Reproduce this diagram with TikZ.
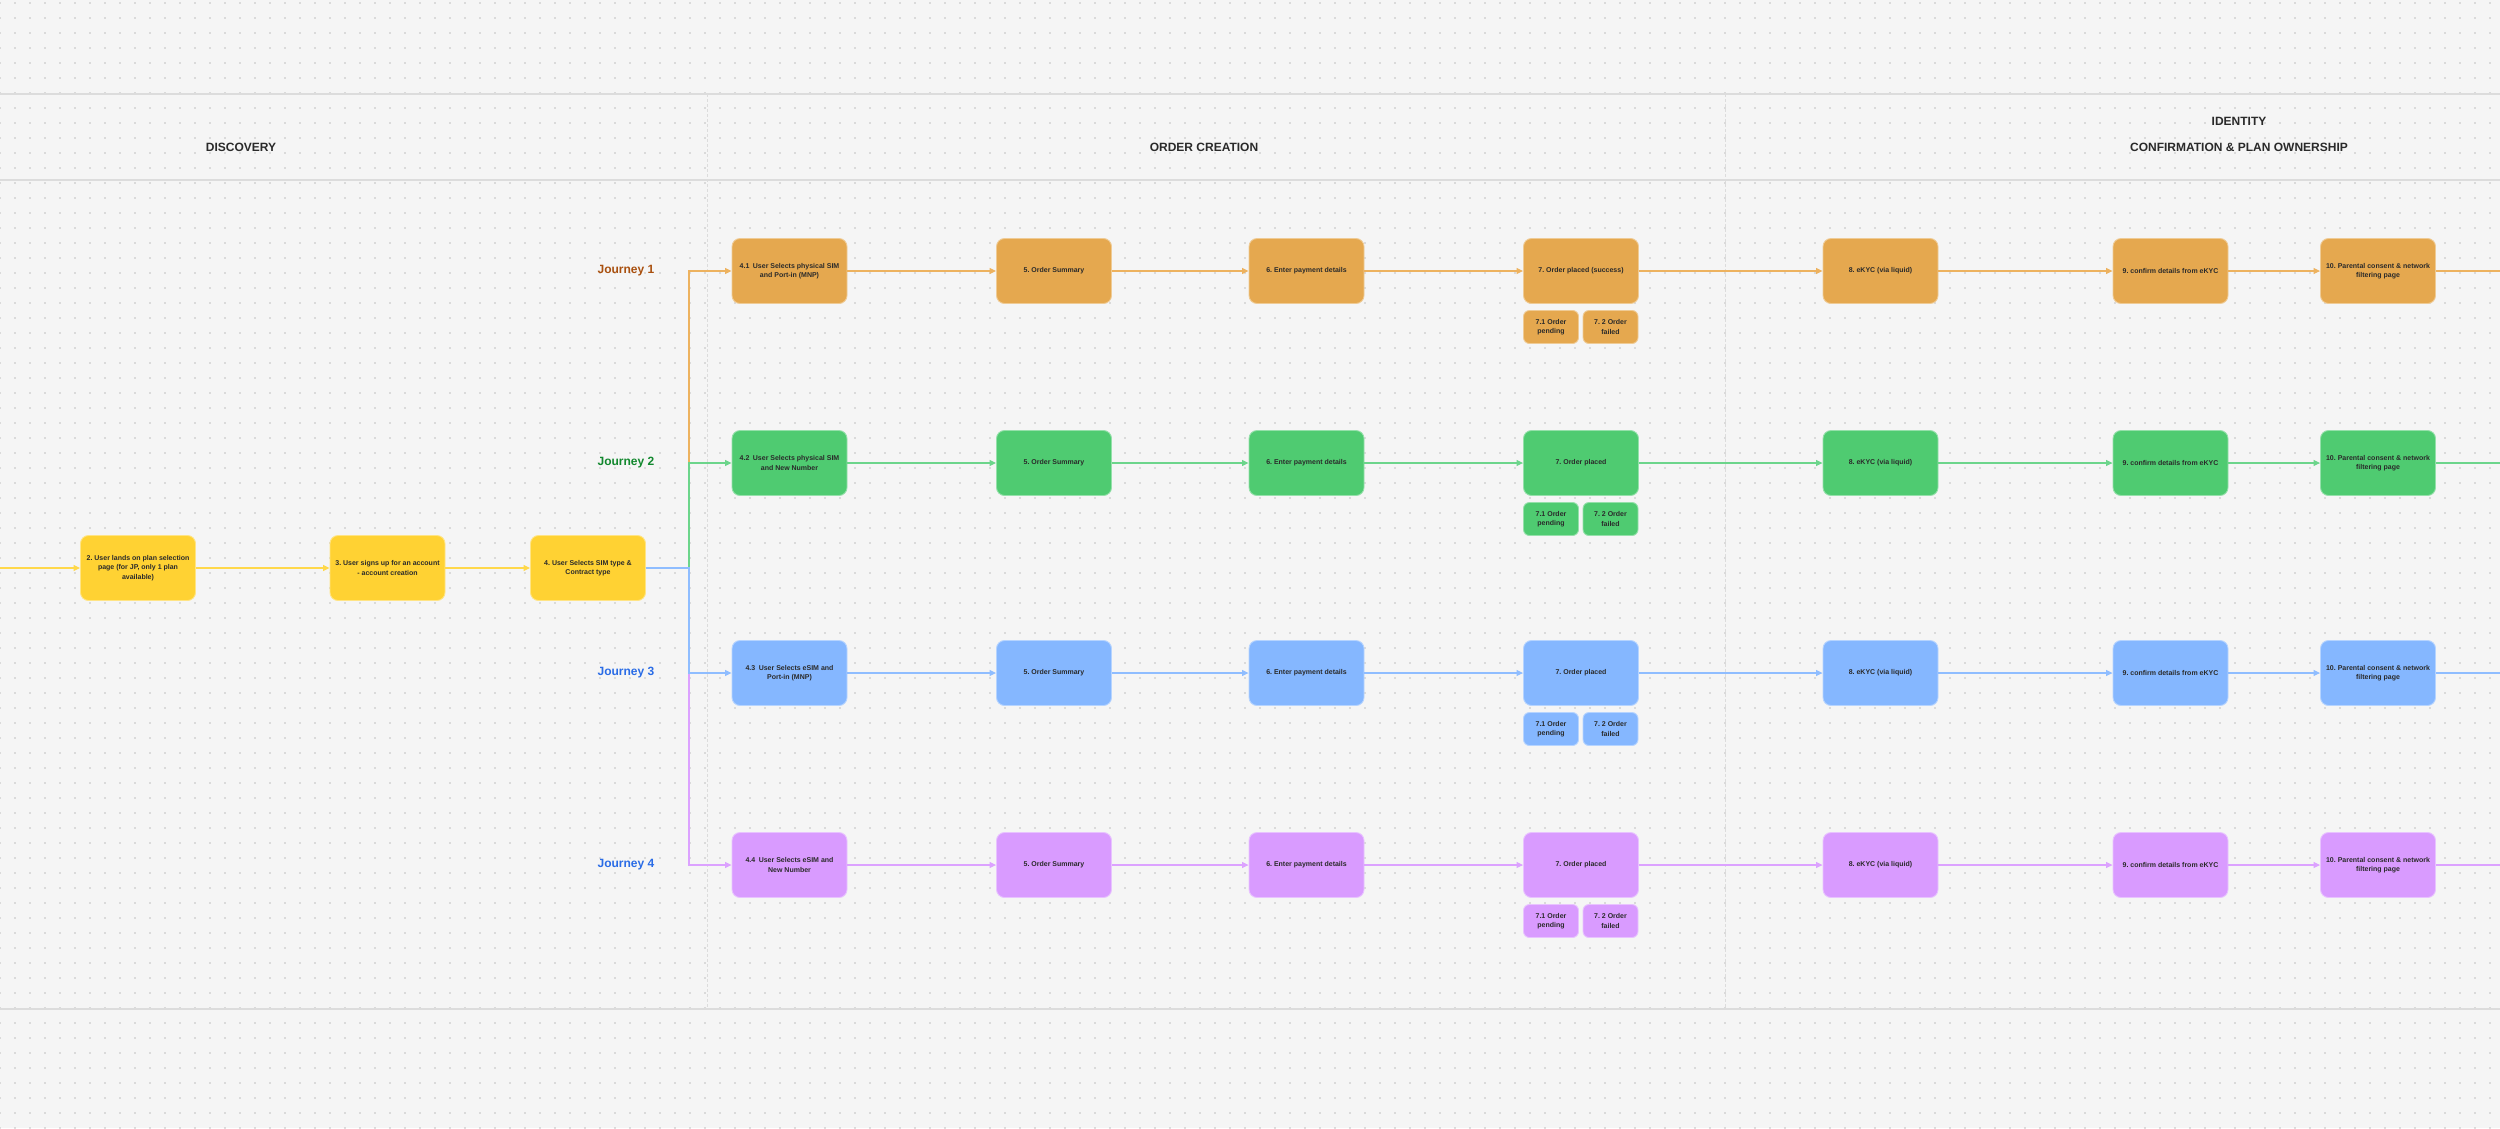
\documentclass[tikz,border=0pt]{standalone}
\usepackage{fontspec}
\setmainfont{Liberation Sans}
\usetikzlibrary{arrows.meta,patterns.meta}
\definecolor{bg}{HTML}{F5F5F5}
\definecolor{dotc}{HTML}{C0C0C0}
\definecolor{sepc}{HTML}{DCDCDC}
\definecolor{txt}{HTML}{2A2A2A}
\definecolor{cyellow}{HTML}{FFD233}
\definecolor{corange}{HTML}{E5A84F}
\definecolor{cgreen}{HTML}{4FCB71}
\definecolor{cblue}{HTML}{85B7FF}
\definecolor{cpurple}{HTML}{D99BFF}
\definecolor{lyellow}{HTML}{FFD84A}
\definecolor{lorange}{HTML}{EDB25F}
\definecolor{lgreen}{HTML}{6CD58B}
\definecolor{lblue}{HTML}{8FBDFF}
\definecolor{lpurple}{HTML}{DCA2FF}
\definecolor{jone}{HTML}{A9500F}
\definecolor{jtwo}{HTML}{12882E}
\definecolor{jthree}{HTML}{2A6CE6}
\frenchspacing
\begin{document}
\frenchspacing
\begin{tikzpicture}[x=1pt,y=-1pt,
  box/.style={rounded corners=8pt, minimum width=115pt, minimum height=65pt,
    align=center, text=txt, inner sep=2pt, line width=0.9pt,
    font=\bfseries\fontsize{7}{9.4}\selectfont},
  jbox/.style={box, fill=#1, draw=#1!60!white},
  sbox/.style={rounded corners=6pt, minimum width=55pt, minimum height=33pt,
    align=center, text=txt, inner sep=1pt, line width=0.9pt,
    font=\bfseries\fontsize{7}{9.4}\selectfont, fill=#1, draw=#1!60!white},
  conn/.style={draw=#1, line width=1.2pt, -{Triangle[length=6.5pt,width=6pt]}},
  connN/.style={draw=#1, line width=1.2pt},
  head/.style={font=\bfseries\fontsize{12}{14}\selectfont, text=txt},
  jlab/.style={font=\bfseries\fontsize{12}{14}\selectfont, text=#1},
  hline/.style={draw=sepc, line width=2pt},
  vline/.style={draw=sepc, line width=1pt, dash pattern=on 3pt off 2pt}
]
\useasboundingbox (0,0) rectangle (2500,1128);
\fill[bg] (0,0) rectangle (2500,1128);
\fill[pattern={Dots[distance=15pt,radius=0.85pt]}, pattern color=dotc] (0,0) rectangle (2500,1128);

% section separators
\draw[hline] (0,94) -- (2500,94);
\draw[hline] (0,180) -- (2500,180);
\draw[hline] (0,1009) -- (2500,1009);
\draw[vline] (707,94) -- (707,1009);
\draw[vline] (1725,94) -- (1725,1009);

% headings
\node[head] (hdisc) at (241,147) {DISCOVERY};
\node[head] (hord) at (1204,147) {ORDER CREATION};
\node[head] (hid1) at (2239,121) {IDENTITY};
\node[head] (hid2) at (2239,147) {CONFIRMATION \& PLAN OWNERSHIP};

% discovery row
\coordinate (start) at (0,568);
\node[jbox=cyellow] (y2) at (138,568) {2. User lands on plan selection\\page (for JP, only 1 plan\\available)};
\node[jbox=cyellow] (y3) at (387.5,568) {3. User signs up for an account\\- account creation};
\node[jbox=cyellow] (y4) at (588,568) {4. User Selects SIM type \&\\Contract type};
\draw[conn=lyellow] (start) -- (y2);
\draw[conn=lyellow] (y2) -- (y3);
\draw[conn=lyellow] (y3) -- (y4);

% journey labels
\node[jlab=jone] (jl1) at (626,271) {Journey 1};
\node[jlab=jtwo] (jl2) at (626,463) {Journey 2};
\node[jlab=jthree] (jl3) at (626,673) {Journey 3};
\node[jlab=jthree] (jl4) at (626,865) {Journey 4};

% first boxes of each journey
\node[jbox=corange] (s4-1) at (789.5,271) {4.1\enspace User Selects physical SIM\\and Port-in (MNP)};
\node[jbox=cgreen] (s4-2) at (789.5,463) {4.2\enspace User Selects physical SIM\\and New Number};
\node[jbox=cblue] (s4-3) at (789.5,673) {4.3\enspace User Selects eSIM and\\Port-in (MNP)};
\node[jbox=cpurple] (s4-4) at (789.5,865) {4.4\enspace User Selects eSIM and\\New Number};

\node[jbox=corange] (s7-1) at (1581,271) {7. Order placed (success)};
\node[jbox=cgreen] (s7-2) at (1581,463) {7. Order placed};
\node[jbox=cblue] (s7-3) at (1581,673) {7. Order placed};
\node[jbox=cpurple] (s7-4) at (1581,865) {7. Order placed};

\foreach \r/\y/\c/\l in {1/271/corange/lorange, 2/463/cgreen/lgreen, 3/673/cblue/lblue, 4/865/cpurple/lpurple} {
  \node[jbox=\c] (s5-\r) at (1054,\y) {5. Order Summary};
  \node[jbox=\c] (s6-\r) at (1306.5,\y) {6. Enter payment details};
  \node[jbox=\c] (s8-\r) at (1880.5,\y) {8. eKYC (via liquid)};
  \node[jbox=\c] (s9-\r) at (2170.5,\y) {9. confirm details from eKYC};
  \node[jbox=\c] (s10-\r) at (2378,\y) {10. Parental consent \& network\\filtering page};
  \node[sbox=\c] (s71-\r) at (1551,\y+56) {7.1 Order\\pending};
  \node[sbox=\c] (s72-\r) at (1610.5,\y+56) {7. 2 Order\\failed};
  \coordinate (out-\r) at (2500,\y);
  \draw[conn=\l] (s4-\r) -- (s5-\r);
  \draw[conn=\l] (s5-\r) -- (s6-\r);
  \draw[conn=\l] (s6-\r) -- (s7-\r);
  \draw[conn=\l] (s7-\r) -- (s8-\r);
  \draw[conn=\l] (s8-\r) -- (s9-\r);
  \draw[conn=\l] (s9-\r) -- (s10-\r);
  \draw[connN=\l] (s10-\r) -- (out-\r);
}

% branching from step 4
\coordinate (br) at (689,568);
\draw[conn=lorange] (y4.east) -- (br) |- (s4-1.west);
\draw[conn=lpurple] (y4.east) -- (br) |- (s4-4.west);
\draw[conn=lgreen] (y4.east) -- (br) |- (s4-2.west);
\draw[conn=lblue] (y4.east) -- (br) |- (s4-3.west);
\end{tikzpicture}
\end{document}
